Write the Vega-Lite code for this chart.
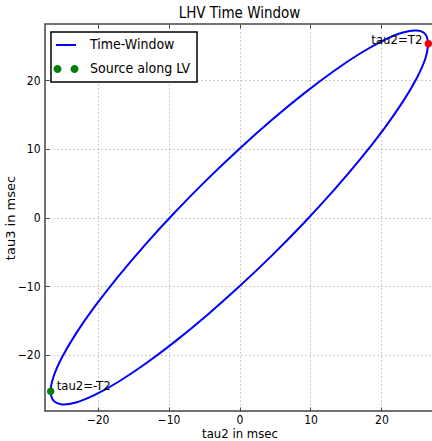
{
  "$schema": "https://vega.github.io/schema/vega-lite/v6.json",
  "width": 389,
  "height": 387,
  "autosize": {"type": "none"},
  "padding": {"left": 45, "top": 24, "right": 0, "bottom": 30},
  "background": "white",
  "title": {"text": "LHV Time Window", "font": "DejaVu Sans Condensed", "fontSize": 15, "fontWeight": "normal", "color": "black", "offset": 3, "anchor": "middle"},
  "config": {
    "view": {"stroke": "#444444", "strokeWidth": 1.5},
    "font": "DejaVu Sans Condensed",
    "axis": {"labelFont": "DejaVu Sans Condensed", "titleFont": "DejaVu Sans Condensed", "labelColor": "black", "titleColor": "black", "titleFontWeight": "normal", "domain": false, "gridColor": "#999999", "gridDash": [1, 3], "gridWidth": 1, "tickColor": "#444444", "tickSize": -4, "tickWidth": 1, "labelFontSize": 12, "titleFontSize": 13}
  },
  "datasets": {
    "ellipse": [
      {"t": 0, "tau2": 26.6, "tau3": 25.29},
      {"t": 10, "tau2": 26.2, "tau3": 26.65},
      {"t": 20, "tau2": 25.0, "tau3": 27.19},
      {"t": 30, "tau2": 23.04, "tau3": 26.91},
      {"t": 40, "tau2": 20.38, "tau3": 25.81},
      {"t": 50, "tau2": 17.1, "tau3": 23.93},
      {"t": 60, "tau2": 13.3, "tau3": 21.32},
      {"t": 70, "tau2": 9.1, "tau3": 18.06},
      {"t": 80, "tau2": 4.62, "tau3": 14.25},
      {"t": 90, "tau2": 0.0, "tau3": 10.01},
      {"t": 100, "tau2": -4.62, "tau3": 5.47},
      {"t": 110, "tau2": -9.1, "tau3": 0.76},
      {"t": 120, "tau2": -13.3, "tau3": -3.97},
      {"t": 130, "tau2": -17.1, "tau3": -8.59},
      {"t": 140, "tau2": -20.38, "tau3": -12.94},
      {"t": 150, "tau2": -23.04, "tau3": -16.89},
      {"t": 160, "tau2": -25.0, "tau3": -20.34},
      {"t": 170, "tau2": -26.2, "tau3": -23.17},
      {"t": 180, "tau2": -26.6, "tau3": -25.29},
      {"t": 190, "tau2": -26.2, "tau3": -26.65},
      {"t": 200, "tau2": -25.0, "tau3": -27.19},
      {"t": 210, "tau2": -23.04, "tau3": -26.91},
      {"t": 220, "tau2": -20.38, "tau3": -25.81},
      {"t": 230, "tau2": -17.1, "tau3": -23.93},
      {"t": 240, "tau2": -13.3, "tau3": -21.32},
      {"t": 250, "tau2": -9.1, "tau3": -18.06},
      {"t": 260, "tau2": -4.62, "tau3": -14.25},
      {"t": 270, "tau2": 0.0, "tau3": -10.01},
      {"t": 280, "tau2": 4.62, "tau3": -5.47},
      {"t": 290, "tau2": 9.1, "tau3": -0.76},
      {"t": 300, "tau2": 13.3, "tau3": 3.97},
      {"t": 310, "tau2": 17.1, "tau3": 8.59},
      {"t": 320, "tau2": 20.38, "tau3": 12.94},
      {"t": 330, "tau2": 23.04, "tau3": 16.89},
      {"t": 340, "tau2": 25.0, "tau3": 20.34},
      {"t": 350, "tau2": 26.2, "tau3": 23.17},
      {"t": 360, "tau2": 26.6, "tau3": 25.29}
    ],
    "ends": [
      {"tau2": 26.6, "tau3": 25.29, "label": "tau2=T2", "side": "right"},
      {"tau2": -26.6, "tau3": -25.29, "label": "tau2=-T2", "side": "left"}
    ]
  },
  "resolve": {"axis": {"x": "independent", "y": "independent"}},
  "layer": [
    {
      "data": {"name": "ellipse"},
      "mark": {"type": "line", "strokeWidth": 2, "interpolate": "cardinal", "clip": true},
      "encoding": {
        "x": {"field": "tau2", "type": "quantitative", "scale": {"domain": [-27.4, 27.4], "nice": false, "zero": false}, "axis": {"title": "tau2 in msec", "values": [-20, -10, 0, 10, 20], "labelPadding": 7, "titlePadding": 2, "grid": true}},
        "y": {"field": "tau3", "type": "quantitative", "scale": {"domain": [-28.15, 28.15], "nice": false, "zero": false}, "axis": {"title": "tau3 in msec", "titleFont": "DejaVu Sans", "titleFontSize": 13, "values": [-20, -10, 0, 10, 20], "labelPadding": 9, "titlePadding": 0, "grid": true}},
        "order": {"field": "t", "type": "quantitative"},
        "color": {
          "datum": "Time-Window",
          "scale": {"domain": ["Time-Window", "Source along LV"], "range": ["#0000ff", "#007f00"]},
          "legend": {
            "title": null,
            "orient": "none",
            "legendX": 6,
            "legendY": 8,
            "fillColor": "white",
            "strokeColor": "black",
            "padding": 6,
            "symbolOffset": 2,
            "symbolSize": 400,
            "symbolStrokeWidth": 2,
            "labelOffset": 17,
            "labelFontSize": 14,
            "labelFont": "DejaVu Sans Condensed",
            "labelColor": "black",
            "rowPadding": 10,
            "encode": {
              "legend": {"update": {"strokeWidth": {"value": 1.5}}},
              "symbols": {"update": {
                "shape": {"signal": "datum.value === 'Time-Window' ? 'stroke' : 'M-1.25,0A0.4,0.4 0 1,0 -0.45,0A0.4,0.4 0 1,0 -1.25,0Z M0.45,0A0.4,0.4 0 1,0 1.25,0A0.4,0.4 0 1,0 0.45,0Z'"},
                "fill": {"signal": "datum.value === 'Time-Window' ? 'transparent' : '#007f00'"},
                "stroke": {"signal": "datum.value === 'Time-Window' ? '#0000ff' : '#007f00'"},
                "strokeWidth": {"signal": "datum.value === 'Time-Window' ? 2 : 0"},
                "opacity": {"value": 1}
              }}
            }
          }
        }
      }
    },
    {
      "data": {"name": "ends"},
      "transform": [{"filter": "datum.side === 'left'"}],
      "mark": {"type": "point", "filled": true, "size": 55, "opacity": 1},
      "encoding": {
        "x": {"field": "tau2", "type": "quantitative", "axis": {"orient": "top", "labels": false, "title": null, "grid": false, "values": [-20, -10, 0, 10, 20]}},
        "y": {"field": "tau3", "type": "quantitative", "axis": null},
        "color": {"datum": "Source along LV"}
      }
    },
    {
      "data": {"name": "ends"},
      "transform": [{"filter": "datum.side === 'right'"}],
      "mark": {"type": "point", "filled": true, "size": 55, "opacity": 1, "color": "#ff0000"},
      "encoding": {
        "x": {"field": "tau2", "type": "quantitative", "axis": null},
        "y": {"field": "tau3", "type": "quantitative", "axis": null}
      }
    },
    {
      "data": {"name": "ends"},
      "transform": [{"filter": "datum.side === 'right'"}],
      "mark": {"type": "text", "align": "right", "baseline": "middle", "dx": -6, "dy": -4, "fontSize": 13, "font": "DejaVu Sans Condensed", "color": "black"},
      "encoding": {
        "x": {"field": "tau2", "type": "quantitative", "axis": null},
        "y": {"field": "tau3", "type": "quantitative", "axis": null},
        "text": {"field": "label"}
      }
    },
    {
      "data": {"name": "ends"},
      "transform": [{"filter": "datum.side === 'left'"}],
      "mark": {"type": "text", "align": "left", "baseline": "middle", "dx": 6, "dy": -5, "fontSize": 13, "font": "DejaVu Sans Condensed", "color": "black"},
      "encoding": {
        "x": {"field": "tau2", "type": "quantitative", "axis": null},
        "y": {"field": "tau3", "type": "quantitative", "axis": null},
        "text": {"field": "label"}
      }
    }
  ]
}
